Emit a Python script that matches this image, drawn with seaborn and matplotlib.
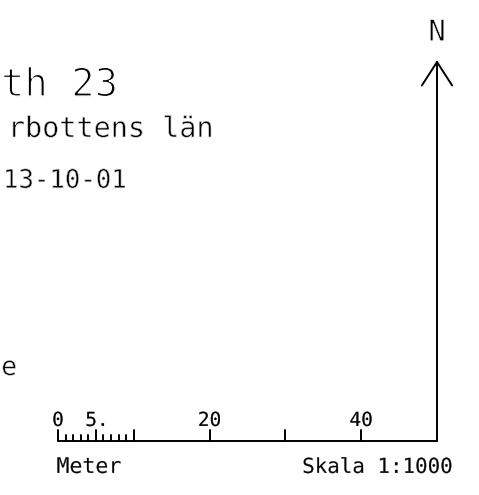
import numpy as np
import pandas as pd
import seaborn as sns
import matplotlib.pyplot as plt
import matplotlib.patheffects as pe

# ------ data (all in meters on the map) ------
bar_length = 50
minor_ticks = [1, 2, 3, 4, 6, 7, 8, 9]
major_ticks = [0, 5, 10, 20, 30, 40]
minor_height = 0.8
major_height = 1.45
tick_labels = ["0", "5.", "20", "40"]
tick_label_pos = [0, 5, 20, 40]
arrow_top = 50
arrow_head = (2.0, 3.1)  # half width, length

# ------ build line segments ------
rows = []
seg = 0
def add(points):
    global seg
    for x, y in points:
        rows.append({"x": x, "y": y, "seg": seg})
    seg += 1

add([(0, 0), (bar_length, 0)])
for t in minor_ticks:
    add([(t, 0), (t, minor_height)])
for t in major_ticks:
    add([(t, 0), (t, major_height)])
add([(bar_length, 0), (bar_length, arrow_top)])
add([(bar_length - arrow_head[0], arrow_top - arrow_head[1]),
     (bar_length, arrow_top),
     (bar_length + arrow_head[0], arrow_top - arrow_head[1])])
lines = pd.DataFrame(rows)

# ------ plot ------
sns.set_style("white")
fig = plt.figure(figsize=(4.79, 4.95), dpi=100)
ax = fig.add_axes([0, 0, 1, 1])

sns.lineplot(data=lines, x="x", y="y", units="seg", estimator=None, sort=False,
             color="black", lw=1.4, ax=ax, legend=False)

ax.set_xlim(-7.652, 55.54)
ax.set_ylim(-7.124, 58.18)
ax.axis("off")

font = "DejaVu Sans Mono"

# thin the glyphs a bit so they look like the plotter font
def thin(w):
    if w <= 0:
        return []
    return [pe.Normal(), pe.Stroke(linewidth=w, foreground="white")]

def label(x, y, s, size, ha, w):
    ax.text(x, y, s, ha=ha, va="baseline", fontsize=size, family=font,
            color="black", path_effects=thin(w))

for pos, lab in zip(tick_label_pos, tick_labels):
    if lab == "5.":
        label(3.6, 1.98, lab, 14, "left", 0.1)
    else:
        label(pos, 1.98, lab, 14, "center", 0.1)

label(-0.2, -4.22, "Meter", 15.5, "left", 0.15)
label(52.2, -4.22, "Skala 1:1000", 15, "right", 0.15)
label(bar_length, 52.8, "N", 21, "center", 0.55)

# title block (cut at the left edge)
label(7.9, 45.5, "th 23", 28, "right", 1.1)
label(20.5, 40.1, "rbottens län", 20.5, "right", 0.5)
label(9.1, 33.4, "13-10-01", 18.5, "right", 0.45)
label(-5.4, 8.7, "e", 19, "right", 0.45)

fig.savefig("out.png", dpi=100, facecolor="white")
